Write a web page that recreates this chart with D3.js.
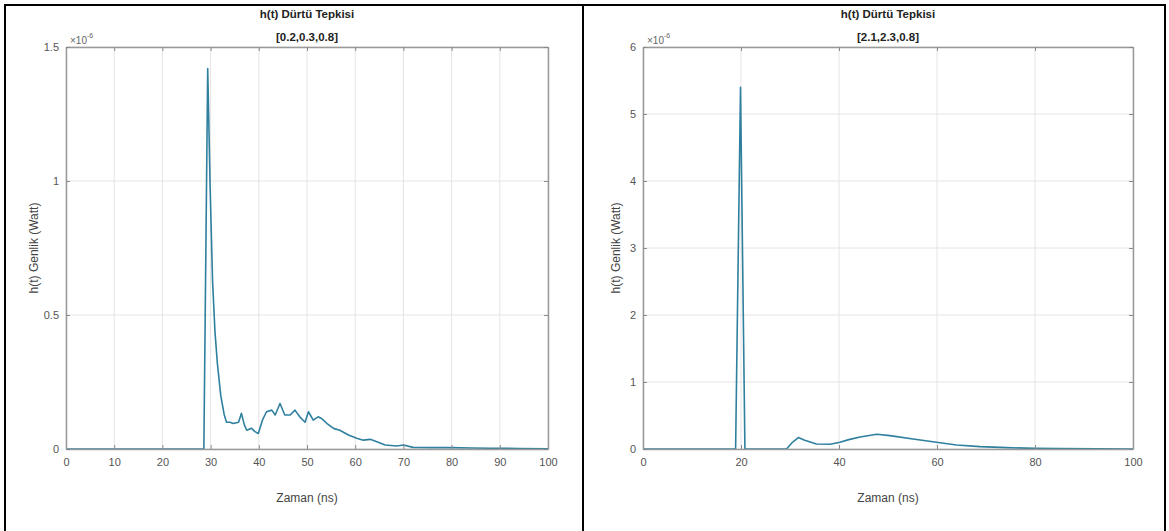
<!DOCTYPE html>
<html>
<head>
<meta charset="utf-8">
<script src="https://cdn.jsdelivr.net/npm/d3@7"></script>
<style>
  body { margin: 0; background: #fff; }
  svg { display: block; font-family: "Liberation Sans", Arial, sans-serif; }
</style>
</head>
<body>
<div id="viz"></div>
<script>
// values are x1e-6 W, time in ns
var leftTime = [0, 28.6, 29.4, 29.9, 30.4, 30.9, 31.4, 32.1, 32.8, 33.3, 34.0, 34.7, 35.8, 36.4, 37.0, 37.5, 38.5, 39.2, 39.9, 40.8, 41.6, 42.7, 43.4, 44.4, 45.4, 46.5, 47.5, 48.5, 49.6, 50.3, 51.3, 52.3, 53.0, 54.1, 55.5, 56.8, 58.6, 60.3, 61.7, 63.1, 64.5, 66.2, 68.6, 70.0, 72.0, 76.0, 80.0, 84.0, 88.0, 94.0, 100];
var leftValue = [0, 0, 1.42, 0.98, 0.63, 0.44, 0.32, 0.2, 0.13, 0.10, 0.10, 0.095, 0.10, 0.133, 0.09, 0.07, 0.077, 0.065, 0.058, 0.11, 0.139, 0.145, 0.127, 0.17, 0.127, 0.127, 0.145, 0.12, 0.10, 0.139, 0.108, 0.12, 0.114, 0.096, 0.077, 0.07, 0.052, 0.04, 0.033, 0.036, 0.027, 0.015, 0.011, 0.015, 0.006, 0.005, 0.005, 0.004, 0.003, 0.002, 0.001];

var rightTime = [0, 18.9, 19.9, 20.8, 29.3, 30.5, 31.7, 33.0, 35.4, 38.2, 40.2, 42.0, 44.3, 47.7, 50.4, 55.1, 59.9, 64.0, 68.8, 74.2, 80, 85, 100];
var rightValue = [0, 0, 5.40, 0, 0, 0.1, 0.17, 0.13, 0.075, 0.07, 0.10, 0.14, 0.18, 0.22, 0.2, 0.15, 0.10, 0.06, 0.035, 0.02, 0.01, 0.005, 0];

var leftXTicks = [0, 10, 20, 30, 40, 50, 60, 70, 80, 90, 100];
var leftYTicks = [0, 0.5, 1, 1.5];
var rightXTicks = [0, 20, 40, 60, 80, 100];
var rightYTicks = [0, 1, 2, 3, 4, 5, 6];

var titleLine1 = 'h(t) Dürtü Tepkisi';
var leftTitle2 = '[0.2,0.3,0.8]';
var rightTitle2 = '[2.1,2.3,0.8]';
var xLabel = 'Zaman (ns)';
var yLabel = 'h(t) Genlik (Watt)';

var width = 1169, height = 531;

var svg = d3.select('#viz').append('svg')
    .attr('width', width)
    .attr('height', height);

svg.append('rect').attr('width', width).attr('height', height).attr('fill', '#fff');

function drawPanel(p) {
    var x = d3.scaleLinear().domain([0, 100]).range([p.left, p.right]);
    var y = d3.scaleLinear().domain([0, p.yMax]).range([449, 47]);
    var g = svg.append('g');

    // grid
    g.selectAll('.gx').data(p.xTicks).enter().append('line')
        .attr('x1', function(d) { return x(d); }).attr('x2', function(d) { return x(d); })
        .attr('y1', y(0)).attr('y2', y(p.yMax))
        .attr('stroke', '#e4e4e4').attr('stroke-width', 1);
    g.selectAll('.gy').data(p.yTicks).enter().append('line')
        .attr('x1', p.left).attr('x2', p.right)
        .attr('y1', function(d) { return y(d); }).attr('y2', function(d) { return y(d); })
        .attr('stroke', '#e4e4e4').attr('stroke-width', 1);

    // curve
    var line = d3.line()
        .x(function(d, i) { return x(p.time[i]); })
        .y(function(d) { return y(d); });
    g.append('path')
        .datum(p.values)
        .attr('d', line)
        .attr('fill', 'none')
        .attr('stroke', '#2f7f9f')
        .attr('stroke-width', 1.6)
        .attr('stroke-linejoin', 'round');

    // axes (ticks inward, box)
    var bottom = d3.axisBottom(x).tickValues(p.xTicks).tickSizeInner(-4).tickSizeOuter(0).tickPadding(9);
    var top = d3.axisTop(x).tickValues(p.xTicks).tickSizeInner(-4).tickSizeOuter(0).tickFormat('');
    var leftAx = d3.axisLeft(y).tickValues(p.yTicks).tickSizeInner(-4).tickSizeOuter(0).tickPadding(7)
        .tickFormat(function(d) { return String(d); });
    var rightAx = d3.axisRight(y).tickValues(p.yTicks).tickSizeInner(-4).tickSizeOuter(0).tickFormat('');

    var axes = [
        g.append('g').attr('transform', 'translate(0,' + y(0) + ')').call(bottom),
        g.append('g').attr('transform', 'translate(0,' + y(p.yMax) + ')').call(top),
        g.append('g').attr('transform', 'translate(' + p.left + ',0)').call(leftAx),
        g.append('g').attr('transform', 'translate(' + p.right + ',0)').call(rightAx)
    ];
    axes.forEach(function(a) {
        a.select('.domain').attr('stroke', '#9a9a9a').attr('stroke-width', 1.5);
        a.selectAll('.tick line').attr('stroke', '#8a8a8a');
        a.selectAll('.tick text').attr('fill', '#555').style('font-size', '11px');
    });

    // exponent
    var ex = g.append('text').attr('x', p.left + 4).attr('y', 44)
        .attr('fill', '#666').style('font-size', '10px');
    ex.append('tspan').text('\u00d710');
    ex.append('tspan').attr('dy', -6).style('font-size', '7px').text('-6');

    // titles
    var cx = (p.left + p.right) / 2;
    g.append('text').attr('x', cx).attr('y', 18).attr('text-anchor', 'middle')
        .attr('fill', '#222').style('font-size', '11.5px').style('font-weight', 'bold')
        .text(titleLine1);
    g.append('text').attr('x', cx).attr('y', 41).attr('text-anchor', 'middle')
        .attr('fill', '#222').style('font-size', '11.5px').style('font-weight', 'bold')
        .text(p.title2);

    // labels
    g.append('text').attr('x', cx).attr('y', 502).attr('text-anchor', 'middle')
        .attr('fill', '#444').style('font-size', '12px').text(xLabel);
    g.append('text')
        .attr('transform', 'translate(' + p.yLabelX + ',248) rotate(-90)')
        .attr('text-anchor', 'middle')
        .attr('fill', '#444').style('font-size', '12px').text(yLabel);
}

drawPanel({ left: 66, right: 548, yMax: 1.5, xTicks: leftXTicks, yTicks: leftYTicks,
    time: leftTime, values: leftValue, title2: leftTitle2, yLabelX: 38 });
drawPanel({ left: 643, right: 1133, yMax: 6, xTicks: rightXTicks, yTicks: rightYTicks,
    time: rightTime, values: rightValue, title2: rightTitle2, yLabelX: 620 });

// table borders
var border = svg.append('g').attr('stroke', '#000').attr('stroke-width', 2);
border.append('line').attr('x1', 5).attr('x2', 1165).attr('y1', 5).attr('y2', 5);
border.append('line').attr('x1', 5).attr('x2', 5).attr('y1', 4).attr('y2', 531);
border.append('line').attr('x1', 583).attr('x2', 583).attr('y1', 4).attr('y2', 531);
border.append('line').attr('x1', 1165).attr('x2', 1165).attr('y1', 4).attr('y2', 531);
</script>
</body>
</html>
